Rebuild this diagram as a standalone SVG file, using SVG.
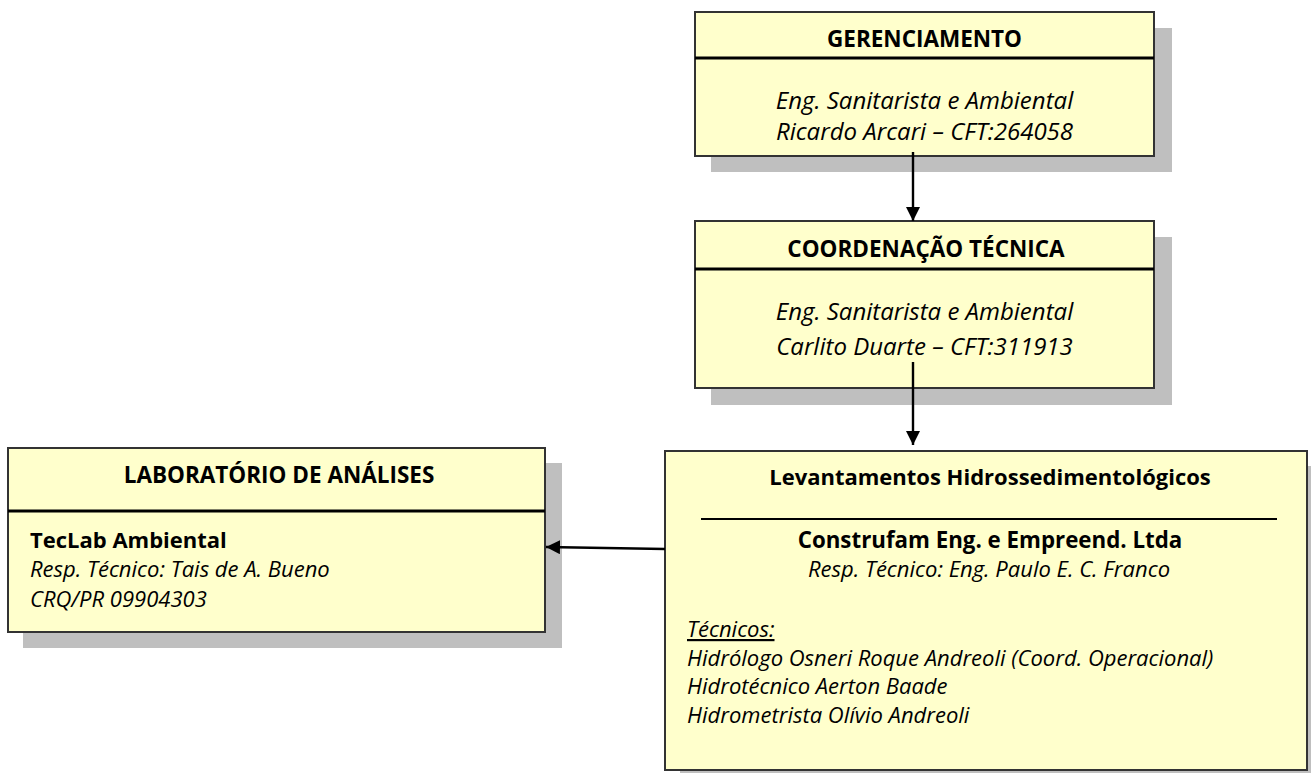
<svg xmlns="http://www.w3.org/2000/svg" width="1311" height="773" viewBox="0 0 1311 773">
<defs>
<style>
.box{fill:#ffffcc;stroke:#333333;stroke-width:2}
.shadow{fill:#bfbfbf}
.div{stroke:#000;stroke-width:3}
.b{font-family:"Open Sans","Liberation Sans",sans-serif;font-weight:bold;fill:#000;font-size:22.5px}
.i{font-family:"Open Sans","Liberation Sans",sans-serif;font-style:italic;fill:#000;font-size:22px}
.t{font-size:24px}
.c{text-anchor:middle}
.conn{stroke:#000;stroke-width:2.4;fill:none}
</style>
<marker id="arr" markerWidth="15" markerHeight="14" refX="14" refY="7" orient="auto" markerUnits="userSpaceOnUse">
<path d="M0,0 L14,7 L0,14 Z" fill="#000"/>
</marker>
</defs>
<rect width="1311" height="773" fill="#fff"/>
<g id="gerenciamento">
<rect class="shadow" x="711" y="28" width="461" height="144"/>
<rect class="box" x="695" y="12" width="459" height="144"/>
<line class="div" x1="695" y1="58" x2="1154" y2="58"/>
<text class="b c" x="924.5" y="47">GERENCIAMENTO</text>
<text class="i t c" x="924.5" y="109">Eng. Sanitarista e Ambiental</text>
<text class="i t c" x="924.5" y="140">Ricardo Arcari – CFT:264058</text>
</g>
<g id="coordenacao">
<rect class="shadow" x="711" y="237" width="461" height="168"/>
<rect class="box" x="695" y="221" width="459" height="167"/>
<line class="div" x1="695" y1="269" x2="1154" y2="269"/>
<text class="b c" x="926" y="257">COORDENAÇÃO TÉCNICA</text>
<text class="i t c" x="924.5" y="320">Eng. Sanitarista e Ambiental</text>
<text class="i t c" x="924.5" y="355">Carlito Duarte – CFT:311913</text>
</g>
<g id="laboratorio">
<rect class="shadow" x="23" y="463" width="539" height="185"/>
<rect class="box" x="8" y="448" width="537" height="184"/>
<line class="div" x1="8" y1="511" x2="545" y2="511"/>
<text class="b c" x="279" y="483">LABORATÓRIO DE ANÁLISES</text>
<text class="b" x="30" y="548" style="font-size:22px">TecLab Ambiental</text>
<text class="i" x="30" y="577">Resp. Técnico: Tais de A. Bueno</text>
<text class="i" x="30" y="607">CRQ/PR 09904303</text>
</g>
<g id="levantamentos">
<rect class="shadow" x="680" y="466" width="645" height="320"/>
<rect class="box" x="665" y="451" width="642" height="319"/>
<line class="div" x1="701" y1="519" x2="1277" y2="519" style="stroke-width:2"/>
<text class="b c" x="990" y="485" style="font-size:22px">Levantamentos Hidrossedimentológicos</text>
<text class="b c" x="990" y="548" style="font-size:22.3px">Construfam Eng. e Empreend. Ltda</text>
<text class="i c" x="989" y="577">Resp. Técnico: Eng. Paulo E. C. Franco</text>
<text class="i" x="687" y="637" text-decoration="underline">Técnicos:</text>
<text class="i" x="687" y="666">Hidrólogo Osneri Roque Andreoli (Coord. Operacional)</text>
<text class="i" x="687" y="694">Hidrotécnico Aerton Baade</text>
<text class="i" x="687" y="723">Hidrometrista Olívio Andreoli</text>
</g>
<g id="connectors">
<line class="conn" x1="913" y1="152" x2="913" y2="221" marker-end="url(#arr)"/>
<line class="conn" x1="913" y1="362" x2="913" y2="445" marker-end="url(#arr)"/>
<line class="conn" x1="665" y1="549" x2="546" y2="547" marker-end="url(#arr)"/>
</g>
</svg>
